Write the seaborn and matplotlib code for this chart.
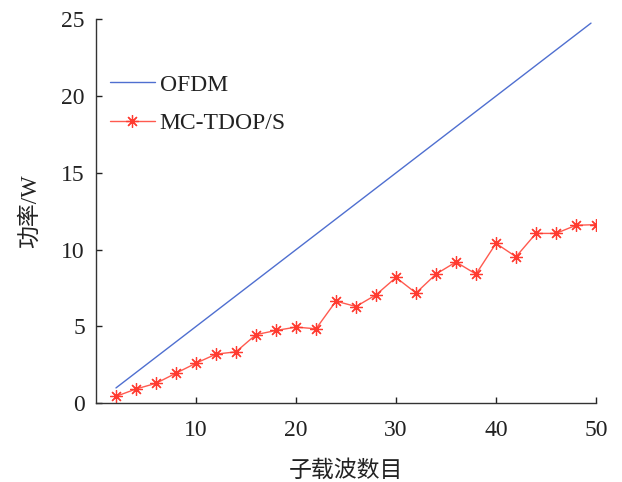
import matplotlib
matplotlib.use("Agg")
import matplotlib.pyplot as plt
import seaborn as sns
import pandas as pd

# Subcarrier counts and transmit power (W)
ofdm_subcarriers = [2, 49.5]
ofdm_power = [1.0, 24.75]

mc_subcarriers = [2, 4, 6, 8, 10, 12, 14, 16, 18, 20, 22, 24, 26,
                  28, 30, 32, 34, 36, 38, 40, 42, 44, 46, 48, 50]
mc_power = [0.45, 0.93, 1.30, 1.96, 2.61, 3.20, 3.35, 4.47, 4.74, 4.96,
            4.85, 6.65, 6.30, 7.06, 8.19, 7.18, 8.41, 9.20, 8.41, 10.41,
            9.54, 11.06, 11.06, 11.59, 11.63]

x_ticks = [10, 20, 30, 40, 50]
y_ticks = [0, 5, 10, 15, 20, 25]

sns.set_theme(style="ticks")
plt.rcParams["font.family"] = ["Liberation Serif", "Noto Sans CJK SC"]

fig = plt.figure(figsize=(6.22, 4.82), dpi=100)
ax = fig.add_axes([0.1543, 0.1633, 0.8039, 0.7967])

ofdm_df = pd.DataFrame({"n": ofdm_subcarriers, "p": ofdm_power})
mc_df = pd.DataFrame({"n": mc_subcarriers, "p": mc_power})

# asterisk marker: eight spokes through the centre
asterisk = (8, 2, 0)

sns.lineplot(data=ofdm_df, x="n", y="p", ax=ax, color="#4f6fd0",
             linewidth=1.0, label="OFDM")
sns.lineplot(data=mc_df, x="n", y="p", ax=ax, color="#ff5a4f",
             linewidth=1.0, marker=asterisk, markersize=9,
             markeredgecolor="#ff3b30", markerfacecolor="#ff3b30",
             markeredgewidth=0.9, label="MC-TDOP/S")

ax.set_xlim(0, 50)
ax.set_ylim(0, 25)
ax.set_xticks(x_ticks)
ax.set_yticks(y_ticks)
ax.tick_params(direction="in", length=4, width=1, labelsize=17,
               colors="#222222")
ax.tick_params(axis="x", pad=12)
ax.tick_params(axis="y", pad=8)
for side in ("top", "right"):
    ax.spines[side].set_visible(False)
for side in ("left", "bottom"):
    ax.spines[side].set_color("#333333")
    ax.spines[side].set_linewidth(1.0)

ax.set_xlabel("子载波数目", fontsize=16.5, color="#222222", labelpad=14)
ax.set_ylabel("功率/W", fontsize=16.5, color="#222222", labelpad=15)

leg = ax.legend(loc="upper left", bbox_to_anchor=(-0.005, 0.90), frameon=False,
                fontsize=17, handlelength=1.9, handletextpad=0.2,
                labelspacing=0.7, borderaxespad=0.3)
for t in leg.get_texts():
    t.set_color("#222222")

fig.savefig("out.png", dpi=100)
